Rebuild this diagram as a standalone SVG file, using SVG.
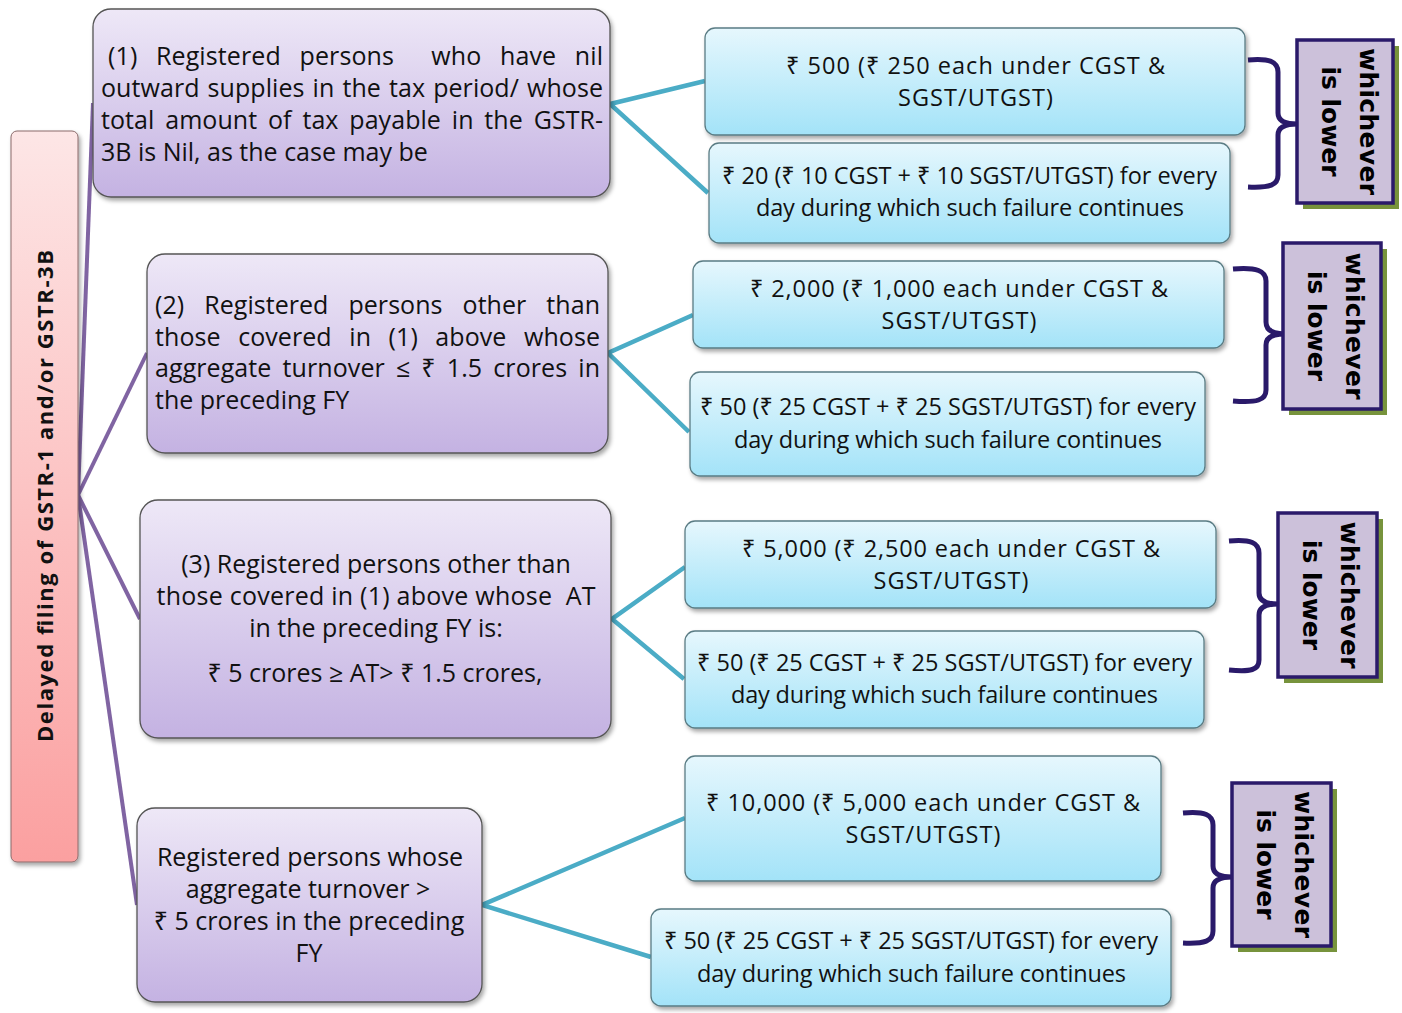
<svg xmlns="http://www.w3.org/2000/svg" width="1402" height="1013" viewBox="0 0 1402 1013">
<style>
.t{font-family:"Open Sans","Noto Sans","DejaVu Sans",sans-serif;font-size:25px;fill:#111}
.b{font-size:23.5px}
.m{text-anchor:middle}
.pb{fill:url(#gp);stroke:#555;stroke-width:1.3;filter:url(#sh)}
.bb{fill:url(#gb);stroke:#5a7c84;stroke-width:1.3;filter:url(#sh)}
.wl{fill:#ccc1da;stroke:#2a1a6a;stroke-width:3.5}
.ws{fill:#77933c}
.wt{font-family:"DejaVu Sans","Verdana",sans-serif;font-weight:bold;font-size:25px;fill:#000;text-anchor:middle}
.br{fill:none;stroke:#2a1a6a;stroke-width:5;stroke-linecap:butt}
.cp{stroke:#8064a2;stroke-width:4;fill:none}
.ct{stroke:#4bacc6;stroke-width:4.5;fill:none}
</style>
<defs>
<linearGradient id="gp" x1="0" y1="0" x2="0" y2="1"><stop offset="0" stop-color="#eee8f7"/><stop offset="1" stop-color="#c4b2e2"/></linearGradient>
<linearGradient id="gb" x1="0" y1="0" x2="0" y2="1"><stop offset="0" stop-color="#e6f7fd"/><stop offset="1" stop-color="#a3e3f8"/></linearGradient>
<linearGradient id="gr" x1="0" y1="0" x2="0" y2="1"><stop offset="0" stop-color="#fde6e6"/><stop offset="1" stop-color="#fba0a0"/></linearGradient>
<filter id="sh" x="-5%" y="-5%" width="115%" height="125%"><feDropShadow dx="2" dy="3" stdDeviation="2" flood-color="#000" flood-opacity="0.35"/></filter>
</defs>

<g id="connectors">
<line class="cp" x1="78" y1="495" x2="93" y2="103"/>
<line class="cp" x1="78" y1="495" x2="147" y2="353"/>
<line class="cp" x1="78" y1="495" x2="140" y2="619"/>
<line class="cp" x1="78" y1="495" x2="137" y2="905"/>
<polyline class="ct" points="705,81 610,104 708,193"/>
<polyline class="ct" points="693,315 608,353 689,432"/>
<polyline class="ct" points="685,567 612,619 684,679"/>
<polyline class="ct" points="685,818 482,905 651,957"/>
<path class="br" d="M1248,60 C1270,58 1278,62 1278,72 L1278,113 C1278,121 1285,124 1297,124 C1285,124 1278,127 1278,135 L1278,175 C1278,185 1270,188 1248,187"/>
<path class="br" d="M1233,269 C1257,267 1266,271 1266,281 L1266,322 C1266,330 1273,334 1285,334 C1273,334 1266,337 1266,345 L1266,390 C1266,400 1257,403 1233,401"/>
<path class="br" d="M1229,541 C1251,539 1259,543 1259,553 L1259,593 C1259,601 1266,604 1278,604 C1266,604 1259,607 1259,615 L1259,660 C1259,670 1251,672 1229,670"/>
<path class="br" d="M1183,813 C1205,811 1213,815 1213,825 L1213,866 C1213,874 1220,877 1232,877 C1220,877 1213,880 1213,888 L1213,931 C1213,941 1205,944 1183,943"/>
</g>

<g id="root">
<rect x="11" y="131" width="67" height="731" rx="6" fill="url(#gr)" stroke="#8a6a6a" stroke-width="1" filter="url(#sh)"/>
<text transform="translate(53,496) rotate(-90)" font-family="'Open Sans','Noto Sans',sans-serif" font-weight="bold" font-size="22" fill="#111" text-anchor="middle" textLength="492" lengthAdjust="spacing">Delayed filing of GSTR-1 and/or GSTR-3B</text>
</g>

<g id="cat1">
<rect class="pb" x="93" y="9" width="517" height="188" rx="18"/>
<text class="t" x="108" y="65" style="white-space:pre" word-spacing="12" textLength="495" lengthAdjust="spacing">(1) Registered persons  who have nil</text>
<text class="t" x="101" y="97" word-spacing="1.5" textLength="502" lengthAdjust="spacing">outward supplies in the tax period/ whose</text>
<text class="t" x="101" y="129" word-spacing="4.3" textLength="502" lengthAdjust="spacing">total amount of tax payable in the GSTR-</text>
<text class="t" x="101" y="161">3B is Nil, as the case may be</text>
</g>

<g id="cat2">
<rect class="pb" x="147" y="254" width="461" height="199" rx="18"/>
<text class="t" x="155" y="314" word-spacing="13.5" textLength="445" lengthAdjust="spacing">(2) Registered persons other than</text>
<text class="t" x="155" y="346" word-spacing="11" textLength="445" lengthAdjust="spacing">those covered in (1) above whose</text>
<text class="t" x="155" y="377" word-spacing="4.5" textLength="445" lengthAdjust="spacing">aggregate turnover ≤ ₹ 1.5 crores in</text>
<text class="t" x="155" y="409">the preceding FY</text>
</g>

<g id="cat3">
<rect class="pb" x="140" y="500" width="471" height="238" rx="18"/>
<text class="t m" x="376" y="573">(3) Registered persons other than</text>
<text class="t m" x="376" y="605" style="white-space:pre" textLength="439" lengthAdjust="spacing">those covered in (1) above whose  AT</text>
<text class="t m" x="376" y="637">in the preceding FY is:</text>
<text class="t m" x="375" y="682">₹ 5 crores ≥ AT&gt; ₹ 1.5 crores,</text>
</g>

<g id="cat4">
<rect class="pb" x="137" y="808" width="345" height="194" rx="18"/>
<text class="t m" x="310" y="866">Registered persons whose</text>
<text class="t m" x="308" y="898">aggregate turnover &gt;</text>
<text class="t m" x="309" y="930">₹ 5 crores in the preceding</text>
<text class="t m" x="309" y="962">FY</text>
</g>

<g id="fee1a">
<rect class="bb" x="705" y="28" width="540" height="107" rx="10"/>
<text class="t b m" x="975.5" y="74" textLength="379" lengthAdjust="spacing">₹ 500 (₹ 250 each under CGST &amp;</text>
<text class="t b m" x="975.5" y="106" textLength="155" lengthAdjust="spacing">SGST/UTGST)</text>
</g>
<g id="fee1b">
<rect class="bb" x="709" y="143" width="521" height="100" rx="10"/>
<text class="t b m" x="969.5" y="184" textLength="495" lengthAdjust="spacing">₹ 20 (₹ 10 CGST + ₹ 10 SGST/UTGST) for every</text>
<text class="t b m" x="970" y="216" textLength="428" lengthAdjust="spacing">day during which such failure continues</text>
</g>
<g id="fee2a">
<rect class="bb" x="693" y="261" width="531" height="87" rx="10"/>
<text class="t b m" x="959" y="297" textLength="418" lengthAdjust="spacing">₹ 2,000 (₹ 1,000 each under CGST &amp;</text>
<text class="t b m" x="959" y="329" textLength="155" lengthAdjust="spacing">SGST/UTGST)</text>
</g>
<g id="fee2b">
<rect class="bb" x="690" y="372" width="515" height="104" rx="10"/>
<text class="t b m" x="948" y="415" textLength="496" lengthAdjust="spacing">₹ 50 (₹ 25 CGST + ₹ 25 SGST/UTGST) for every</text>
<text class="t b m" x="948" y="448" textLength="428" lengthAdjust="spacing">day during which such failure continues</text>
</g>
<g id="fee3a">
<rect class="bb" x="685" y="521" width="531" height="87" rx="10"/>
<text class="t b m" x="951" y="557" textLength="418" lengthAdjust="spacing">₹ 5,000 (₹ 2,500 each under CGST &amp;</text>
<text class="t b m" x="951" y="589" textLength="155" lengthAdjust="spacing">SGST/UTGST)</text>
</g>
<g id="fee3b">
<rect class="bb" x="685" y="631" width="519" height="97" rx="10"/>
<text class="t b m" x="944.5" y="671" textLength="495" lengthAdjust="spacing">₹ 50 (₹ 25 CGST + ₹ 25 SGST/UTGST) for every</text>
<text class="t b m" x="944.5" y="703" textLength="427" lengthAdjust="spacing">day during which such failure continues</text>
</g>
<g id="fee4a">
<rect class="bb" x="685" y="756" width="476" height="125" rx="10"/>
<text class="t b m" x="923" y="811" textLength="434" lengthAdjust="spacing">₹ 10,000 (₹ 5,000 each under CGST &amp;</text>
<text class="t b m" x="923" y="843" textLength="155" lengthAdjust="spacing">SGST/UTGST)</text>
</g>
<g id="fee4b">
<rect class="bb" x="651" y="909" width="520" height="97" rx="10"/>
<text class="t b m" x="911" y="949" textLength="494" lengthAdjust="spacing">₹ 50 (₹ 25 CGST + ₹ 25 SGST/UTGST) for every</text>
<text class="t b m" x="911.5" y="982" textLength="429" lengthAdjust="spacing">day during which such failure continues</text>
</g>

<g id="lower1">
<rect class="ws" x="1303" y="46" width="96" height="163"/>
<rect class="wl" x="1297" y="40" width="96" height="163"/>
<text class="wt" transform="translate(1360,121.5) rotate(90)" textLength="147" lengthAdjust="spacing">whichever</text>
<text class="wt" transform="translate(1322,121.5) rotate(90)" textLength="110" lengthAdjust="spacing">is lower</text>
</g>
<g id="lower2">
<rect class="ws" x="1289" y="249" width="98" height="166"/>
<rect class="wl" x="1283" y="243" width="98" height="166"/>
<text class="wt" transform="translate(1346,326) rotate(90)" textLength="147" lengthAdjust="spacing">whichever</text>
<text class="wt" transform="translate(1308,326) rotate(90)" textLength="110" lengthAdjust="spacing">is lower</text>
</g>
<g id="lower3">
<rect class="ws" x="1284" y="519" width="99" height="164"/>
<rect class="wl" x="1278" y="513" width="99" height="164"/>
<text class="wt" transform="translate(1341,595) rotate(90)" textLength="147" lengthAdjust="spacing">whichever</text>
<text class="wt" transform="translate(1303,595) rotate(90)" textLength="110" lengthAdjust="spacing">is lower</text>
</g>
<g id="lower4">
<rect class="ws" x="1238" y="789" width="99" height="163"/>
<rect class="wl" x="1232" y="783" width="99" height="163"/>
<text class="wt" transform="translate(1295,864.5) rotate(90)" textLength="147" lengthAdjust="spacing">whichever</text>
<text class="wt" transform="translate(1257,864.5) rotate(90)" textLength="110" lengthAdjust="spacing">is lower</text>
</g>
</svg>
